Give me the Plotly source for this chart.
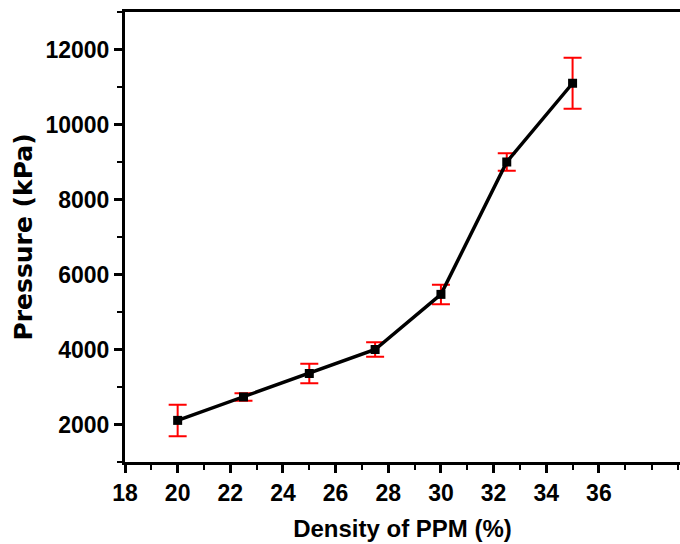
import plotly.graph_objects as go

# PPM density (%) vs. pressure (kPa) with standard deviation
density = [20, 22.5, 25, 27.5, 30, 32.5, 35]
pressure = [2110, 2735, 3360, 4000, 5470, 9000, 11100]
pressure_err = [420, 100, 258, 195, 260, 236, 680]

x_ticks = [18, 20, 22, 24, 26, 28, 30, 32, 34, 36]
y_ticks = [2000, 4000, 6000, 8000, 10000, 12000]

font_family = "Liberation Sans, Arial, sans-serif"

fig = go.Figure()
fig.add_trace(go.Scatter(
    x=density,
    y=pressure,
    mode="lines+markers",
    line=dict(color="black", width=3.5),
    marker=dict(symbol="square", size=9, color="black"),
    error_y=dict(
        type="data",
        array=pressure_err,
        visible=True,
        color="red",
        thickness=2,
        width=9,
    ),
    showlegend=False,
))

axis_common = dict(
    showgrid=False,
    zeroline=False,
    showline=True,
    linecolor="black",
    linewidth=3,
    ticks="outside",
    ticklen=8,
    tickwidth=3,
    tickcolor="black",
    tickfont=dict(family=font_family, size=23, color="black", weight="bold"),
)

fig.update_xaxes(
    **axis_common,
    range=[18, 39.08],
    tickvals=x_ticks,
    ticktext=[str(v) for v in x_ticks],
    mirror=True,
    minor=dict(dtick=1, tick0=18, ticks="outside", ticklen=5, tickwidth=2, tickcolor="black"),
    title=dict(text="<b>Density of PPM (%)</b>", font=dict(family=font_family, size=24, color="black"), standoff=16),
)
fig.update_yaxes(
    **axis_common,
    range=[1000, 13000],
    tickvals=y_ticks,
    ticktext=[str(v) for v in y_ticks],
    minor=dict(dtick=1000, tick0=1000, ticks="outside", ticklen=5, tickwidth=2, tickcolor="black"),
    title=dict(text="<b>Pressure (kPa)</b>", font=dict(family="DejaVu Sans, sans-serif", size=25, color="black"), standoff=6),
)

fig.update_layout(
    width=680,
    height=544,
    margin=dict(l=125, r=0, t=12, b=82),
    paper_bgcolor="white",
    plot_bgcolor="white",
)

fig.write_html("out.html")
